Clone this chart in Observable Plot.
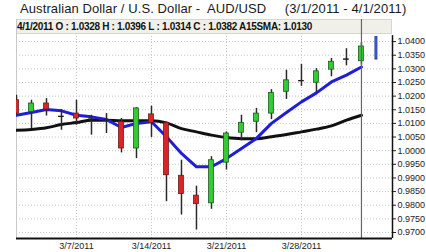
<!DOCTYPE html>
<html>
<head>
<meta charset="utf-8">
<script src="https://cdn.jsdelivr.net/npm/d3@7"></script>
<script src="https://cdn.jsdelivr.net/npm/@observablehq/plot@0.6"></script>
<style>
  html, body { margin: 0; padding: 0; background: #fff; }
  #wrap { position: relative; width: 426px; height: 252px; overflow: hidden; font-family: "Liberation Sans", Arial, sans-serif; }
  #title { position: absolute; left: 20px; top: 1px; font-size: 13px; letter-spacing: 0.1px; line-height: 16px; color: #1a1a1a; white-space: pre; }
  #info { position: absolute; left: 16px; top: 19px; width: 376px; height: 15px; box-sizing: border-box;
          background: #f1f0e8; border: 1px solid #d6d6ce; font-size: 10px; letter-spacing: -0.3px; font-weight: bold; line-height: 13px;
          color: #111; white-space: pre; padding-left: 0px; }
  #chart { position: absolute; left: 0; top: 0; }
</style>
</head>
<body>
<div id="wrap">
  <div id="title"></div>
  <div id="info"></div>
  <div id="chart"></div>
</div>
<script>
// ---- data ----
const titleText = "Australian Dollar / U.S. Dollar -  AUD/USD     (3/1/2011 - 4/1/2011)";
const dates = ["3/1/2011","3/2/2011","3/3/2011","3/4/2011",
  "3/7/2011","3/8/2011","3/9/2011","3/10/2011","3/11/2011",
  "3/14/2011","3/15/2011","3/16/2011","3/17/2011","3/18/2011",
  "3/21/2011","3/22/2011","3/23/2011","3/24/2011","3/25/2011",
  "3/28/2011","3/29/2011","3/30/2011","3/31/2011","4/1/2011","4/4/2011"];
const open  = [1.0185,1.0142,1.0173,1.0125, 1.0136,1.0115,1.0112,1.0106,1.0008, 1.0133,1.0102,0.9908,0.9835,0.9807, 0.9956,1.0066,1.0106,1.0136,1.0216, 1.0256,1.0249,1.0297,1.0335,1.0328,1.0416];
const high  = [1.0203,1.0185,1.0191,1.0151, 1.0185,1.0130,1.0136,1.0118,1.0158, 1.0163,1.0104,0.9965,0.9870,0.9978, 1.0069,1.0130,1.0155,1.0224,1.0295, 1.0316,1.0301,1.0338,1.0374,1.0396,1.0417];
const low   = [1.0130,1.0081,1.0127,1.0075, 1.0093,1.0057,1.0063,0.9992,0.9971, 1.0048,0.9813,0.9764,0.9709,0.9785, 0.9929,1.0036,1.0066,1.0114,1.0188, 1.0236,1.0212,1.0271,1.0311,1.0314,1.0334];
const close = [1.0136,1.0173,1.0151,1.0123, 1.0118,1.0113,1.0110,1.0008,1.0155, 1.0102,0.9910,0.9841,0.9804,0.9965, 1.0063,1.0102,1.0136,1.0212,1.0258, 1.0254,1.0291,1.0326,1.0333,1.0382,1.0335];
const smaShort = [1.0130,1.0140,1.0151,1.0146, 1.0130,1.0124,1.0114,1.0085,1.0100, 1.0106,1.0051,0.9990,0.9941,0.9941, 0.9971,1.0008,1.0045,1.0100,1.0140, 1.0179,1.0212,1.0252,1.0277,1.0307];
const smaLong  = [1.0075,1.0078,1.0084,1.0096, 1.0103,1.0112,1.0112,1.0110,1.0110, 1.0110,1.0102,1.0081,1.0069,1.0057, 1.0048,1.0044,1.0044,1.0051,1.0059, 1.0069,1.0079,1.0091,1.0112,1.0130];
const weekLabels = ["3/7/2011","3/14/2011","3/21/2011","3/28/2011"];
const yTicks = [0.9700,0.9750,0.9800,0.9850,0.9900,0.9950,1.0000,1.0050,1.0100,1.0150,1.0200,1.0250,1.0300,1.0350,1.0400];
const cursorDate = "4/1/2011";
const pendingDate = "4/4/2011";
const xDomain = [0, 25.07];
const yDomain = [0.9678, 1.0481];
const chartTop = 1.0422;

// ---- derived tables ----
const fmt4 = d3.format(".4f");
const candles = dates.map((d, i) => ({i, date: d, open: open[i], high: high[i], low: low[i], close: close[i]}));
const regular = candles.filter(d => d.date !== pendingDate);
const pending = candles.filter(d => d.date === pendingDate);
const smaS = smaShort.map((v, i) => ({i, v}));
const smaL = smaLong.map((v, i) => ({i, v}));
const weekTicks = weekLabels.map(l => dates.indexOf(l));
const ci = dates.indexOf(cursorDate);

document.getElementById("title").textContent = titleText;
document.getElementById("info").textContent =
  `${cursorDate} O : ${fmt4(open[ci])} H : ${fmt4(high[ci])} L : ${fmt4(low[ci])} C : ${fmt4(close[ci])} A15SMA: ${fmt4(smaLong[ci])}`;

const bodyFill = d => Math.abs(d.close - d.open) < 0.0004 ? "#222" : (d.close > d.open ? "#33cc33" : "#dd2424");
const bodyStroke = d => Math.abs(d.close - d.open) < 0.0004 ? "#222" : (d.close > d.open ? "#1c5a1c" : "#6a1a1a");

const chart = Plot.plot({
  width: 426,
  height: 252,
  marginTop: 19,
  marginBottom: 14,
  marginLeft: 16,
  marginRight: 34,
  style: {background: "transparent", fontFamily: "Liberation Sans, Arial, sans-serif", fontSize: "9px", color: "#222"},
  x: {type: "linear", domain: xDomain, axis: "bottom", ticks: weekTicks, tickFormat: i => dates[i], tickSize: 0, tickPadding: 4, label: null},
  y: {type: "linear", domain: yDomain, axis: "right", ticks: yTicks, tickFormat: fmt4, tickSize: 3, tickPadding: 2, label: null},
  marks: [
    Plot.ruleY(yTicks, {stroke: "#c4c4c4", strokeDasharray: "1,2"}),
    Plot.ruleX(weekTicks, {y1: yDomain[0], y2: chartTop, stroke: "#c4c4c4", strokeDasharray: "1,2"}),
    Plot.ruleX([xDomain[0]], {stroke: "#c8c8c8", strokeWidth: 1}),
    Plot.line(smaL, {x: "i", y: "v", stroke: "#111", strokeWidth: 3, curve: "monotone-x", clip: true}),
    Plot.line(smaS, {x: "i", y: "v", stroke: "#1e1ed8", strokeWidth: 3, clip: true}),
    Plot.ruleX(regular, {x: "i", y1: "low", y2: "high", stroke: "#2a2a2a", strokeWidth: 1.5, clip: true}),
    Plot.rect(regular, {x1: d => d.i - 0.16, x2: d => d.i + 0.16, y1: "open", y2: "close",
      fill: bodyFill, stroke: bodyStroke, strokeWidth: 0.8, clip: true}),
    Plot.rect(pending, {x1: d => d.i - 0.07, x2: d => d.i + 0.07, y1: "low", y2: "high",
      fill: "#4466d8", stroke: "#1e3a9a", strokeWidth: 0.8, clip: true}),
    Plot.ruleX([ci], {stroke: "#666", strokeWidth: 1.2}),
    Plot.ruleX([xDomain[1]], {y1: yDomain[0], y2: chartTop, stroke: "#111", strokeWidth: 1.5}),
    Plot.ruleY([yDomain[0]], {stroke: "#111", strokeWidth: 2})
  ]
});
document.getElementById("chart").appendChild(chart);
</script>
</body>
</html>
